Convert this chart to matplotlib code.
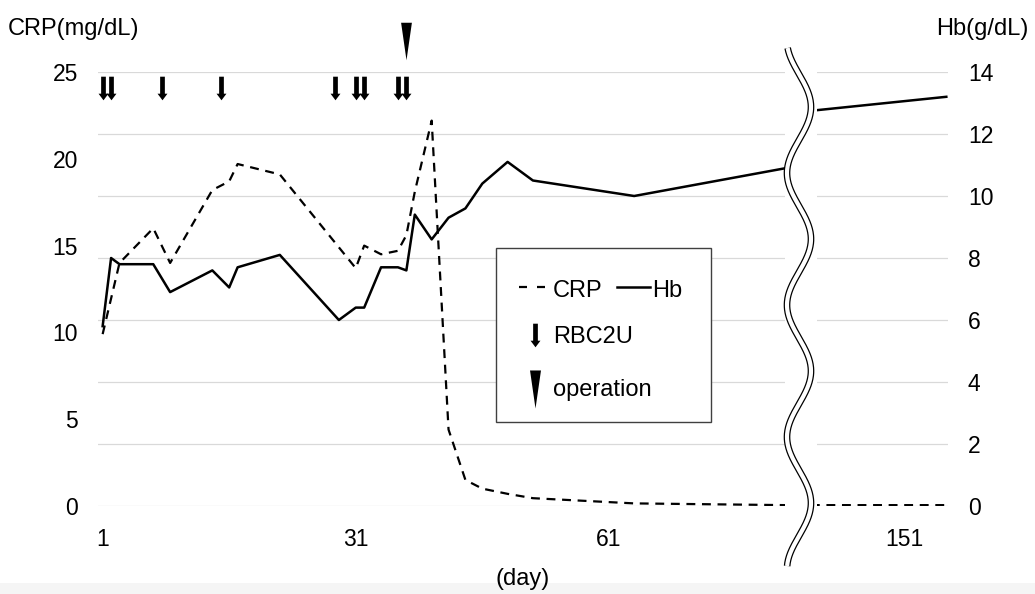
import numpy as np
import matplotlib.pyplot as plt
from matplotlib.path import Path
from matplotlib.patches import Rectangle
from matplotlib.transforms import blended_transform_factory

plt.rcParams['font.family'] = ['Liberation Sans', 'DejaVu Sans']

# Hb (g/dL) by day
hb_days = [1, 2, 3, 7, 9, 14, 16, 17, 22, 29, 31, 32, 34, 36, 37, 38, 40, 42, 44, 46, 49, 52, 64, 82, 140, 156]
hb = [5.8, 8.0, 7.8, 7.8, 6.9, 7.6, 7.05, 7.7, 8.1, 6.0, 6.4, 6.4, 7.7, 7.7, 7.6, 9.4, 8.6, 9.3, 9.6, 10.4, 11.1, 10.5, 10.0, 10.9, 12.75, 13.2]

# CRP (mg/dL) by day
crp_days = [1, 3, 7, 9, 14, 16, 17, 22, 31, 32, 34, 36, 37, 38, 40, 42, 44, 46, 49, 52, 64, 82, 140, 156]
crp = [9.9, 14.0, 16.0, 14.0, 18.2, 18.7, 19.7, 19.1, 13.7, 15.0, 14.5, 14.7, 15.6, 18.1, 22.2, 4.4, 1.5, 1.0, 0.7, 0.45, 0.15, 0.05, 0.05, 0.05]

# transfusions (RBC 2 units) and operation day
rbc_days = [1, 2, 8, 15, 28.6, 31, 32, 36, 37]
op_day = 37

xticks = [1, 31, 61, 151]
crp_ticks = [0, 5, 10, 15, 20, 25]
hb_ticks = [0, 2, 4, 6, 8, 10, 12, 14]

# broken day axis: squeeze days 84..140 into one unit
brk_in = [-1000, 84, 140, 1000]
brk_out = [-1000, 84, 85, 945]


def fwd(d):
    return np.interp(d, brk_in, brk_out)


def inv(p):
    return np.interp(p, brk_out, brk_in)


W, H = 1035, 594
fig = plt.figure(figsize=(W / 100, H / 100), dpi=100)

ax = fig.add_axes([98 / W, 1 - 506 / H, 850 / W, 434 / H])
ax.set_xscale('function', functions=(fwd, inv))
ax2 = ax.twinx()
ax.set_zorder(ax2.get_zorder() + 1)
ax.patch.set_visible(False)

# Hb on right axis, gridlines from it
ax2.plot(hb_days, hb, color='black', lw=1.8)
ax2.set_ylim(0, 14)
ax2.set_yticks(hb_ticks)
ax2.grid(axis='y', color='#d9d9d9', lw=0.9)
ax2.set_axisbelow(True)

# CRP on left axis
ax.plot(crp_days, crp, color='black', lw=1.6, linestyle=(0, (4, 3)))
ax.set_ylim(0, 25)
ax.set_yticks(crp_ticks)
ax.set_xlim(0.45, 156.2)
ax.set_xticks(xticks)
ax.set_xticklabels([str(t) for t in xticks])

for a in (ax, ax2):
    for s in a.spines.values():
        s.set_visible(False)
ax.tick_params(axis='x', length=0, pad=15.5, labelsize=16.5)
ax.tick_params(axis='y', length=0, pad=14.4, labelsize=16.5)
ax2.tick_params(axis='y', length=0, pad=14.4, labelsize=16.5)

# marker shapes
arrow = Path([(-0.1, 0.5), (0.1, 0.5), (0.1, -0.22), (0.21, -0.22), (0, -0.5),
              (-0.21, -0.22), (-0.1, -0.22), (-0.1, 0.5)],
             [Path.MOVETO] + [Path.LINETO] * 6 + [Path.CLOSEPOLY])
wedge = Path([(-0.144, 0.5), (0.144, 0.5), (0, -0.5), (-0.144, 0.5)],
             [Path.MOVETO, Path.LINETO, Path.LINETO, Path.CLOSEPOLY])

trans = blended_transform_factory(ax.transData, ax.transAxes)
ax.plot(rbc_days, [0.9624] * len(rbc_days), transform=trans, ls='none', marker=arrow,
        ms=17, mfc='black', mew=0, clip_on=False)
ax.plot([op_day], [1.0707], transform=trans, ls='none', marker=wedge,
        ms=27, mfc='black', mew=0, clip_on=False)

# overlay in pixel coordinates: break, legend, titles
ov = fig.add_axes([0, 0, 1, 1])
ov.set_zorder(5)
ov.set_xlim(0, W)
ov.set_ylim(H, 0)
ov.axis('off')
ov.patch.set_visible(False)

ov.add_patch(Rectangle((0, 583), W, 11, facecolor='#f5f5f5', edgecolor='none', zorder=0))

# axis break
ov.add_patch(Rectangle((785, 55), 32, 458, facecolor='white', edgecolor='none', zorder=1))
yy = np.linspace(48, 566, 800)
xx = 799 + 12 * np.sin(2 * np.pi * (yy - 74) / 132)
ov.plot(xx, yy, color='black', lw=4.8, solid_capstyle='butt', zorder=2)
ov.plot(xx, yy, color='white', lw=3.0, solid_capstyle='butt', zorder=3)

# legend box
ov.add_patch(Rectangle((496, 248), 215, 174, facecolor='white', edgecolor='#404040', lw=1.0, zorder=4))
ov.plot([519, 547], [287, 287], color='black', lw=1.6, linestyle=(0, (3.6, 4.5)), zorder=5)
ov.text(553, 297, 'CRP', fontsize=17, va='baseline', zorder=5)
ov.plot([617, 650], [287, 287], color='black', lw=1.8, zorder=5)
ov.text(652, 297, 'Hb', fontsize=17, va='baseline', zorder=5)
ov.plot([535], [335], ls='none', marker=arrow, ms=17, mfc='black', mew=0, zorder=5)
ov.text(553, 343, 'RBC2U', fontsize=17, va='baseline', zorder=5)
ov.plot([535], [389], ls='none', marker=wedge, ms=27.4, mfc='black', mew=0, zorder=5)
ov.text(553, 396, 'operation', fontsize=17, va='baseline', zorder=5)

# axis titles
ov.text(8, 35, 'CRP(mg/dL)', fontsize=17, va='baseline', zorder=5)
ov.text(1029, 35, 'Hb(g/dL)', fontsize=17, ha='right', va='baseline', zorder=5)
ov.text(523, 585, '(day)', fontsize=17, ha='center', va='baseline', zorder=5)

fig.savefig('out.png', dpi=100)
